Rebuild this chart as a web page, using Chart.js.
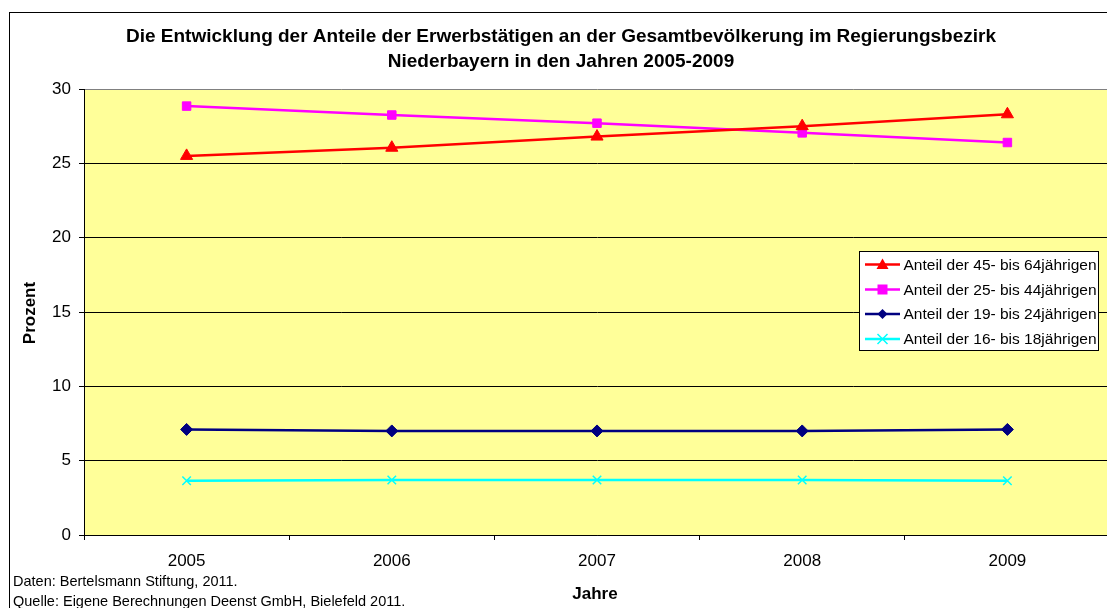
<!DOCTYPE html>
<html>
<head>
<meta charset="utf-8">
<script src="https://cdn.jsdelivr.net/npm/chart.js@4/dist/chart.umd.min.js"></script>
<style>
html,body{margin:0;padding:0;background:#fff;overflow:hidden;width:1107px;height:608px;}
#wrap{position:absolute;left:0;top:0;width:1120px;height:608px;}
</style>
</head>
<body>
<div id="wrap"><canvas id="c" width="1120" height="608"></canvas></div>
<script>
const years = ['2005','2006','2007','2008','2009'];
const anteil45bis64 = [25.5, 26.05, 26.8, 27.5, 28.3];
const anteil25bis44 = [28.85, 28.25, 27.7, 27.05, 26.4];
const anteil19bis24 = [7.1, 7.0, 7.0, 7.0, 7.1];
const anteil16bis18 = [3.65, 3.7, 3.7, 3.7, 3.65];
const seriesLabels = ['Anteil der 45- bis 64jährigen','Anteil der 25- bis 44jährigen','Anteil der 19- bis 24jährigen','Anteil der 16- bis 18jährigen'];
const titleLines = ['Die Entwicklung der Anteile der Erwerbstätigen an der Gesamtbevölkerung im Regierungsbezirk','Niederbayern in den Jahren 2005-2009'];
const yTitle = 'Prozent';
const xTitle = 'Jahre';
const notes = ['Daten: Bertelsmann Stiftung, 2011.','Quelle: Eigene Berechnungen Deenst GmbH, Bielefeld 2011.'];

const FONT = '"Liberation Sans", Arial, sans-serif';
const colors = ['#FF0000','#FF00FF','#000080','#00FFFF'];
const styles = ['triangle','rect','rectRot','crossRot'];
const radii = [7,6,6,6];

function drawMarker(ctx, style, x, y, r, color){
  ctx.save();
  ctx.fillStyle = color; ctx.strokeStyle = color;
  ctx.beginPath();
  if(style==='triangle'){
    ctx.moveTo(x, y-r); ctx.lineTo(x+r, y+r*0.75); ctx.lineTo(x-r, y+r*0.75); ctx.closePath(); ctx.fill();
  } else if(style==='rect'){
    ctx.fillRect(x-r, y-r, 2*r, 2*r);
  } else if(style==='rectRot'){
    ctx.moveTo(x, y-r); ctx.lineTo(x+r, y); ctx.lineTo(x, y+r); ctx.lineTo(x-r, y); ctx.closePath(); ctx.fill();
  } else {
    ctx.lineWidth = 1.5;
    ctx.moveTo(x-r, y-r); ctx.lineTo(x+r, y+r); ctx.moveTo(x+r, y-r); ctx.lineTo(x-r, y+r); ctx.stroke();
  }
  ctx.restore();
}

const decor = {
  id:'decor',
  beforeDraw(chart){
    const ctx = chart.ctx, a = chart.chartArea;
    ctx.save();
    ctx.fillStyle = '#FFFFFF';
    ctx.fillRect(0,0,chart.width,chart.height);
    ctx.fillStyle = '#FFFF99';
    ctx.fillRect(a.left, a.top, a.right-a.left, a.bottom-a.top);
    ctx.restore();
  },
  afterDraw(chart){
    const ctx = chart.ctx;
    ctx.save();
    ctx.strokeStyle = '#000'; ctx.lineWidth = 1;
    ctx.strokeRect(9.5, 12.5, 1105, 620);
    ctx.fillStyle = '#000';
    ctx.font = 'bold 19px ' + FONT;
    ctx.textAlign = 'center'; ctx.textBaseline = 'middle';
    ctx.fillText(titleLines[0], 561, 37);
    ctx.fillText(titleLines[1], 561, 62);
    ctx.font = 'bold 17px ' + FONT;
    ctx.fillText(xTitle, 595, 594);
    ctx.save();
    ctx.translate(30, 313); ctx.rotate(-Math.PI/2);
    ctx.fillText(yTitle, 0, 0);
    ctx.restore();
    ctx.font = '14.5px ' + FONT;
    ctx.textAlign = 'left';
    ctx.fillText(notes[0], 13, 582);
    ctx.fillText(notes[1], 13, 602);
    const lx = 859.5, ly = 251.5, lw = 239, lh = 99;
    ctx.fillStyle = '#fff'; ctx.fillRect(lx, ly, lw, lh);
    ctx.strokeStyle = '#000'; ctx.lineWidth = 1; ctx.strokeRect(lx, ly, lw, lh);
    ctx.font = '15.5px ' + FONT;
    ctx.textBaseline = 'middle';
    const ys = [264.5, 289.5, 314, 339];
    for(let i=0;i<4;i++){
      ctx.strokeStyle = colors[i]; ctx.lineWidth = 2.5;
      ctx.beginPath(); ctx.moveTo(865, ys[i]); ctx.lineTo(900, ys[i]); ctx.stroke();
      drawMarker(ctx, styles[i], 882.5, ys[i], i===0?6:5, colors[i]);
      ctx.fillStyle = '#000';
      ctx.fillText(seriesLabels[i], 903.5, ys[i]+1);
    }
    ctx.restore();
  }
};

const dataArrays = [anteil45bis64, anteil25bis44, anteil19bis24, anteil16bis18];
new Chart(document.getElementById('c'), {
  type:'line',
  data:{
    labels: years,
    datasets: dataArrays.map((d,i)=>({
      label: seriesLabels[i],
      data: d,
      borderColor: colors[i],
      backgroundColor: colors[i],
      borderWidth: 2.5,
      pointStyle: styles[i],
      pointRadius: radii[i],
      pointBorderWidth: i===3 ? 1.5 : 1,
      pointBorderColor: colors[i],
      pointBackgroundColor: colors[i],
      fill:false,
      tension:0
    }))
  },
  options:{
    responsive:false,
    animation:false,
    events:[],
    layout:{padding:{left:34, right:10, top:89, bottom:33}},
    plugins:{legend:{display:false}, title:{display:false}, tooltip:{enabled:false}},
    scales:{
      x:{
        type:'category',
        offset:true,
        afterFit(s){ s.height = 40; },
        grid:{offset:true, drawOnChartArea:false, color:'#000', tickLength:5, tickColor:'#000'},
        border:{color:'#000', width:1},
        ticks:{color:'#000', font:{family:FONT, size:17}, padding:11, maxRotation:0}
      },
      y:{
        min:0, max:30,
        afterFit(s){ s.width = 50; },
        ticks:{stepSize:5, color:'#000', font:{family:FONT, size:17}, padding:8},
        grid:{color:(c)=> c.tick && c.tick.value===30 ? '#808080' : '#000', lineWidth:1, tickLength:5, tickColor:'#000'},
        border:{color:'#000', width:1}
      }
    }
  },
  plugins:[decor]
});
</script>
</body>
</html>
